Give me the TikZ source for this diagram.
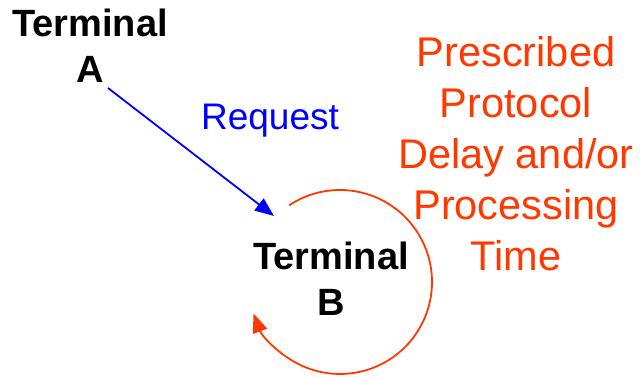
\documentclass[tikz,border=0pt]{standalone}
\usepackage{fontspec}
\setmainfont{Liberation Sans}
\usetikzlibrary{arrows.meta}
\definecolor{redor}{RGB}{255,56,0}
\begin{document}
\begin{tikzpicture}[x=1pt,y=1pt,
  term/.style={align=center,inner sep=0pt,anchor=base,font=\fontsize{38}{46}\selectfont\bfseries},
  note/.style={align=center,inner sep=0pt,anchor=base,text=redor,font=\fontsize{41.5}{51}\selectfont},
  req/.style={inner sep=0pt,anchor=base,text=blue,font=\fontsize{37}{44}\selectfont},
  tip/.style={-{Triangle[length=19pt,width=15pt]}}]
\useasboundingbox (0,0) rectangle (640,-377);
\node[term] (A) at (90,-83) {Terminal\\A};
\node[term] (B) at (331,-315) {Terminal\\B};
\node[req] (R) at (270,-130) {Request};
\node[note] (N) at (516,-270) {Prescribed\\Protocol\\Delay and/or\\Processing\\Time};
\coordinate (Bc) at (340,-282);
\draw[blue,line width=1.8pt,tip] (108,-88) -- (274,-216);
\draw[redor,line width=1.8pt,tip] ([shift={(123.5:92)}]Bc) arc[start angle=123.5,end angle=-160,radius=92];
\end{tikzpicture}
\end{document}
